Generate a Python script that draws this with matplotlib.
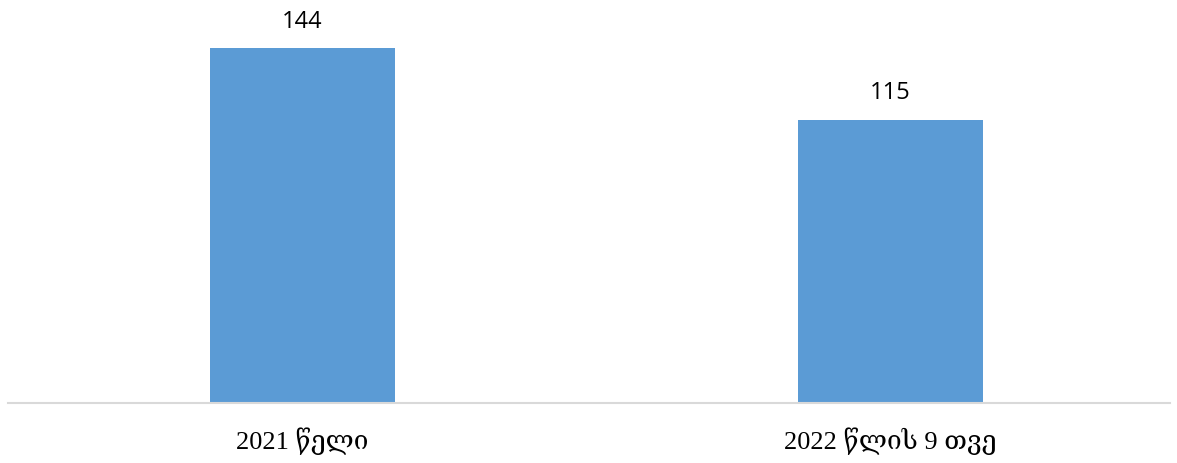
import matplotlib.pyplot as plt

categories = ["2021 წელი", "2022 წლის 9 თვე"]
values = [144, 115]

fig = plt.figure(figsize=(11.77, 4.64), dpi=100)
ax = fig.add_axes([8 / 1177, 60 / 464, 1162 / 1177, 0.85])

x = range(len(categories))
ax.bar(x, values, width=0.314, color="#5B9BD5", zorder=2)

for xi, v in zip(x, values):
    ax.annotate(str(v), (xi, v), xytext=(0, 11), textcoords="offset points",
                ha="center", va="bottom", fontsize=17, family="Open Sans", color="#000000")

ax.set_xlim(-0.5, 1.475)
ax.set_ylim(0, 160)
ax.set_yticks([])
ax.set_xticks(list(x))
ax.set_xticklabels(categories, fontsize=19, family=["Liberation Serif", "DejaVu Serif"])
ax.tick_params(axis="x", length=0, pad=17)

for s in ["top", "right", "left"]:
    ax.spines[s].set_visible(False)
ax.spines["bottom"].set_color("#D9D9D9")
ax.spines["bottom"].set_linewidth(1.5)

fig.savefig("out.png", dpi=100)
